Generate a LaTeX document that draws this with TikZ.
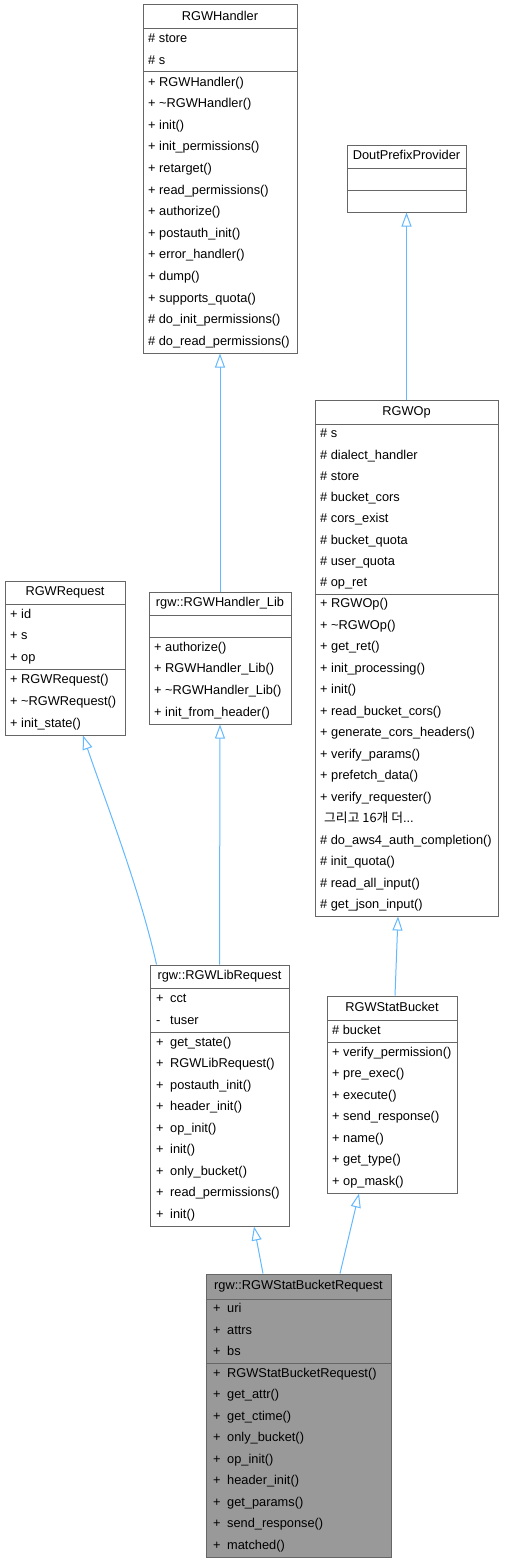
\documentclass[tikz,border=0pt]{standalone}
\usepackage{fontspec}
\setmainfont{Liberation Sans}
\newfontfamily\krfont{Noto Sans CJK KR}
\usetikzlibrary{arrows.meta,fit}
\definecolor{boxline}{HTML}{666666}
\definecolor{arrowblue}{HTML}{63B8FF}
\definecolor{hlfill}{HTML}{999999}
\tikzset{
  boxframe/.style={draw=boxline, line width=1pt, fill=white, inner sep=0pt, rectangle},
  hlbox/.style={fill=hlfill},
  sepline/.style={draw=boxline, line width=1pt},
  rowtxt/.style={anchor=west, inner sep=0pt, font=\fontsize{12.8}{15}\selectfont, text height=9.2pt, text depth=2.7pt},
  titletxt/.style={anchor=center, inner sep=0pt, font=\fontsize{12.8}{15}\selectfont, text height=9.2pt, text depth=2.7pt},
  inh/.style={draw=arrowblue, line width=1pt, -{Triangle[length=14pt,width=10pt,fill=white]}},
}
% name, x1, x2, top, s1, s2, bottom, extra style
\newcommand\umlbox[8]{%
  \node[boxframe,#8,fit={(#2,#4) (#3,#7)}] (#1) {};
  \draw[sepline] (#2,#5) -- (#3,#5) (#2,#6) -- (#3,#6);
}
% name, x1, x2, top, s1, title
\newcommand\umltitle[6]{\node[titletxt] (#1) at ({(#2+#3)/2},{(#4+#5)/2}) {#6};}
% prefix, x, top, bottom, n, list
\newcommand\umlrows[6]{%
  \foreach \t [count=\i] in {#6} {\node[rowtxt] (#1\i) at (#2,{#3+(\i-0.5)*(#4-#3)/#5}) {\t};}}
\newcommand\vsp[2]{\makebox[14pt][l]{#1}#2}
\newcommand\krmore{\hspace{4pt}{\krfont 그리고 16개 더}...}
\begin{document}
\begin{tikzpicture}[x=1pt,y=-1pt]
\useasboundingbox (0,0) rectangle (504,1563);

% RGWHandler
\umlbox{rgwhandler}{143}{297}{5}{29}{72}{353}{}
\umltitle{rgwhandlerT}{143}{297}{5}{29}{RGWHandler}
\umlrows{rgwhandlerA}{148}{29}{72}{2}{\# store, \# s}
\umlrows{rgwhandlerM}{148}{72}{353}{13}{+ RGWHandler(), + \textasciitilde RGWHandler(), + init(), + init\_permissions(), + retarget(), + read\_permissions(), + authorize(), + postauth\_init(), + error\_handler(), + dump(), + supports\_quota(), \# do\_init\_permissions(), \# do\_read\_permissions()}

% DoutPrefixProvider
\umlbox{dout}{347}{466}{145}{168}{190}{212}{}
\umltitle{doutT}{347}{466}{145}{168}{DoutPrefixProvider}

% RGWOp
\umlbox{rgwop}{315}{498}{400}{424}{594}{916}{}
\umltitle{rgwopT}{315}{498}{400}{424}{RGWOp}
\umlrows{rgwopA}{320}{424}{594}{8}{\# s, \# dialect\_handler, \# store, \# bucket\_cors, \# cors\_exist, \# bucket\_quota, \# user\_quota, \# op\_ret}
\umlrows{rgwopM}{320}{594}{916}{15}{+ RGWOp(), + \textasciitilde RGWOp(), + get\_ret(), + init\_processing(), + init(), + read\_bucket\_cors(), + generate\_cors\_headers(), + verify\_params(), + prefetch\_data(), + verify\_requester(), \krmore, \# do\_aws4\_auth\_completion(), \# init\_quota(), \# read\_all\_input(), \# get\_json\_input()}

% RGWRequest
\umlbox{rgwrequest}{5}{125}{581}{604}{669}{735}{}
\umltitle{rgwrequestT}{5}{125}{581}{604}{RGWRequest}
\umlrows{rgwrequestA}{10}{604}{669}{3}{+ id, + s, + op}
\umlrows{rgwrequestM}{10}{669}{735}{3}{+ RGWRequest(), + \textasciitilde RGWRequest(), + init\_state()}

% rgw::RGWHandler_Lib
\umlbox{handlerlib}{149}{291}{592}{615}{637}{724}{}
\umltitle{handlerlibT}{149}{291}{592}{615}{rgw::RGWHandler\_Lib}
\umlrows{handlerlibM}{154}{637}{724}{4}{+ authorize(), + RGWHandler\_Lib(), + \textasciitilde RGWHandler\_Lib(), + init\_from\_header()}

% rgw::RGWLibRequest
\umlbox{libreq}{150}{289}{965}{988}{1032}{1226}{}
\umltitle{libreqT}{150}{289}{965}{988}{rgw::RGWLibRequest}
\umlrows{libreqA}{156}{988}{1032}{2}{\vsp{+}{cct}, \vsp{-}{tuser}}
\umlrows{libreqM}{156}{1032}{1226}{9}{\vsp{+}{get\_state()}, \vsp{+}{RGWLibRequest()}, \vsp{+}{postauth\_init()}, \vsp{+}{header\_init()}, \vsp{+}{op\_init()}, \vsp{+}{init()}, \vsp{+}{only\_bucket()}, \vsp{+}{read\_permissions()}, \vsp{+}{init()}}

% RGWStatBucket
\umlbox{statbucket}{327}{457}{996}{1020}{1042}{1193}{}
\umltitle{statbucketT}{327}{457}{996}{1020}{RGWStatBucket}
\umlrows{statbucketA}{332}{1020}{1042}{1}{\# bucket}
\umlrows{statbucketM}{332}{1042}{1193}{7}{+ verify\_permission(), + pre\_exec(), + execute(), + send\_response(), + name(), + get\_type(), + op\_mask()}

% rgw::RGWStatBucketRequest
\umlbox{sbr}{206}{391}{1274}{1299}{1363}{1557}{hlbox}
\umltitle{sbrT}{206}{391}{1274}{1299}{rgw::RGWStatBucketRequest}
\umlrows{sbrA}{213}{1299}{1363}{3}{\vsp{+}{uri}, \vsp{+}{attrs}, \vsp{+}{bs}}
\umlrows{sbrM}{213}{1363}{1557}{9}{\vsp{+}{RGWStatBucketRequest()}, \vsp{+}{get\_attr()}, \vsp{+}{get\_ctime()}, \vsp{+}{only\_bucket()}, \vsp{+}{op\_init()}, \vsp{+}{header\_init()}, \vsp{+}{get\_params()}, \vsp{+}{send\_response()}, \vsp{+}{matched()}}

% inheritance connectors
\draw[inh] (handlerlib.north) -- (rgwhandler.south);
\draw[inh] (rgwop.north) -- (dout.south);
\draw[inh] ([xshift=7pt]libreq.north west) .. controls (140,890) and (105,800) .. ([xshift=18pt]rgwrequest.south);
\draw[inh] (libreq.north) -- (handlerlib.south);
\draw[inh] ([xshift=3pt]statbucket.north) -- ([xshift=-8.5pt]rgwop.south);
\draw[inh] ([xshift=-35.5pt]sbr.north) -- ([xshift=34.5pt]libreq.south);
\draw[inh] ([xshift=41.5pt]sbr.north) -- ([xshift=-33pt]statbucket.south);
\end{tikzpicture}
\end{document}
